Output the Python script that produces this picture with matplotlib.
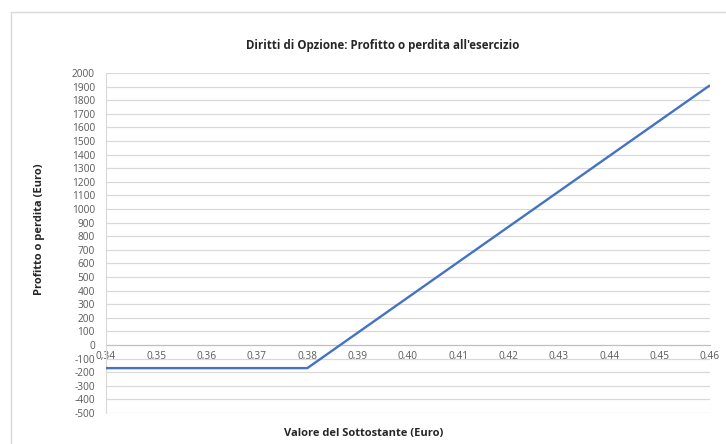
import matplotlib
matplotlib.use("Agg")
import matplotlib.pyplot as plt
from matplotlib.patches import Rectangle

# Data
prices = [0.34, 0.35, 0.36, 0.37, 0.38, 0.39, 0.40, 0.41, 0.42, 0.43, 0.44, 0.45, 0.46]
profit = [-170, -170, -170, -170, -170, 90, 350, 610, 870, 1130, 1390, 1650, 1910]
x_labels = ["0,34", "0,35", "0,36", "0,37", "0,38", "0,39", "0,40", "0,41", "0,42", "0,43", "0,44", "0,45", "0,46"]
y_ticks = list(range(-500, 2001, 100))

title = "Diritti di Opzione: Profitto o perdita all'esercizio"
x_title = "Valore del Sottostante (Euro)"
y_title = "Profitto o perdita (Euro)"

plt.rcParams['font.family'] = ['Open Sans', 'DejaVu Sans']

W, H = 726, 444
fig = plt.figure(figsize=(W / 100, H / 100), dpi=100)
fig.patch.set_facecolor('white')

# outer chart border
fig.add_artist(Rectangle((11 / W, -0.05), 1.2, (H - 12) / H + 0.05, transform=fig.transFigure,
                         fill=False, edgecolor='#d9d9d9', linewidth=1.0))

ax = fig.add_axes([106 / W, (H - 413) / H, (710 - 106) / W, (413 - 73) / H])
ax.plot(prices, profit, color='#4472c4', linewidth=1.7, solid_capstyle='butt', zorder=3)

ax.set_xlim(prices[0], prices[-1])
ax.set_ylim(-500, 2000)
ax.set_yticks(y_ticks)
ax.set_yticklabels([str(v) for v in y_ticks])
ax.set_xticks(prices)
ax.set_xticklabels(x_labels)

ax.grid(axis='y', color='#d9d9d9', linewidth=0.9, zorder=0)
for s in ['top', 'right']:
    ax.spines[s].set_visible(False)
ax.spines['left'].set_color('#d9d9d9')
ax.spines['bottom'].set_position(('data', 0))
ax.spines['bottom'].set_color('#bfbfbf')
ax.spines['bottom'].set_zorder(2)

ax.tick_params(axis='y', length=0, pad=8, labelsize=7.3, labelcolor='#595959')
ax.tick_params(axis='x', length=0, pad=4, labelsize=7.3, labelcolor='#595959')

fig.text(383 / W, (H - 45) / H, title, ha='center', va='center',
         fontsize=8.3, fontweight='bold', color='#262626')
fig.text(364 / W, (H - 433) / H, x_title, ha='center', va='center',
         fontsize=8, fontweight='bold', color='#262626')
fig.text(40 / W, (H - 229) / H, y_title, ha='center', va='center', rotation=90,
         fontsize=8, fontweight='bold', color='#262626')

fig.savefig('out.png', dpi=100, facecolor='white')
